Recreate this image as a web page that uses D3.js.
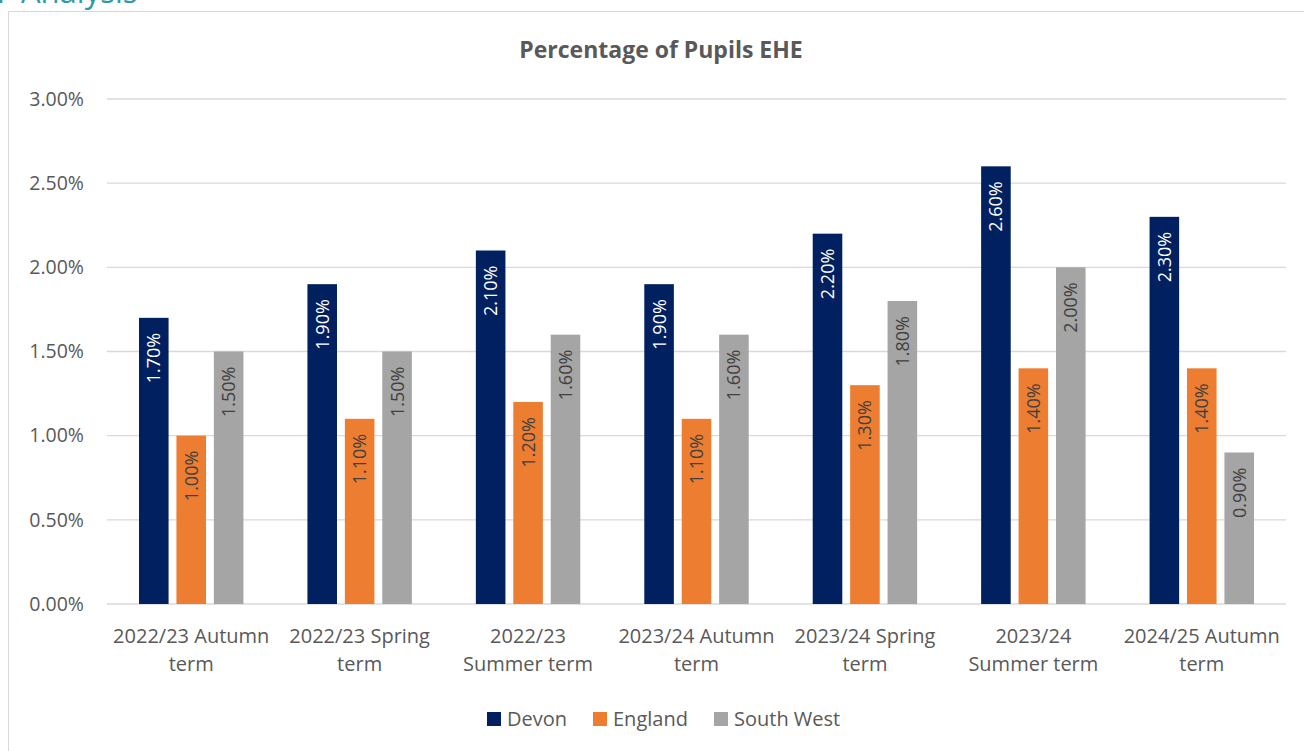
<!DOCTYPE html>
<html>
<head>
<meta charset="utf-8">
<script src="https://cdn.jsdelivr.net/npm/d3@7"></script>
<style>
  body { margin: 0; background: #fff; }
  svg { display: block; font-family: "Open Sans", sans-serif; }
</style>
</head>
<body>
<svg id="chart" width="1304" height="751"></svg>
<script>
// data
const categories = [
    ["2022/23 Autumn", "term"],
    ["2022/23 Spring", "term"],
    ["2022/23", "Summer term"],
    ["2023/24 Autumn", "term"],
    ["2023/24 Spring", "term"],
    ["2023/24", "Summer term"],
    ["2024/25 Autumn", "term"]
];
const seriesNames = ["Devon", "England", "South West"];
const devon = [1.7, 1.9, 2.1, 1.9, 2.2, 2.6, 2.3];
const england = [1.0, 1.1, 1.2, 1.1, 1.3, 1.4, 1.4];
const southWest = [1.5, 1.5, 1.6, 1.6, 1.8, 2.0, 0.9];
const yTicks = [0, 0.5, 1.0, 1.5, 2.0, 2.5, 3.0];

const colors = ["#002060", "#ed7d31", "#a5a5a5"];
const labelColors = ["#ffffff", "#404040", "#404040"];

const svg = d3.select("#chart");
const margin = {top: 99, right: 18, bottom: 147, left: 107};
const width = 1304 - margin.left - margin.right;
const height = 751 - margin.top - margin.bottom;

// the page heading is cut off at the top of the crop
svg.append("text")
    .attr("x", -3).attr("y", 3)
    .attr("font-size", 31)
    .attr("fill", "#2e9aa6")
    .text("l");
svg.append("text")
    .attr("x", 21).attr("y", 3)
    .attr("font-size", 31)
    .attr("fill", "#2e9aa6")
    .text("Analysis");

svg.append("rect")
    .attr("x", 8.5).attr("y", 11.5)
    .attr("width", 1310).attr("height", 760)
    .attr("fill", "#fff")
    .attr("stroke", "#d9d9d9");

svg.append("text")
    .attr("x", 661).attr("y", 58)
    .attr("text-anchor", "middle")
    .attr("font-size", 23)
    .attr("font-weight", "bold")
    .attr("fill", "#595959")
    .text("Percentage of Pupils EHE");

const g = svg.append("g").attr("transform", `translate(${margin.left},${margin.top})`);

const x0 = d3.scaleBand()
    .domain(d3.range(categories.length))
    .range([0, width])
    .paddingInner(0.38)
    .paddingOuter(0.19);

const x1 = d3.scaleBand()
    .domain(d3.range(seriesNames.length))
    .range([0, x0.bandwidth()])
    .paddingInner(0.21);

const y = d3.scaleLinear().domain([0, 3]).range([height, 0]);

// gridlines
g.append("g")
    .selectAll("line")
    .data(yTicks)
    .join("line")
    .attr("x1", 0).attr("x2", width)
    .attr("y1", d => y(d)).attr("y2", d => y(d))
    .attr("stroke", "#d9d9d9")
    .attr("stroke-width", 1.3);

// y axis labels
const yAxis = g.append("g")
    .call(d3.axisLeft(y).tickValues(yTicks).tickFormat(d => d.toFixed(2) + "%").tickSize(0).tickPadding(23));
yAxis.select(".domain").remove();
yAxis.selectAll("text")
    .attr("font-family", "'Open Sans', sans-serif")
    .attr("font-size", 19.5)
    .attr("fill", "#595959");

const series = [devon, england, southWest];

const groups = g.selectAll(".cat")
    .data(categories)
    .join("g")
    .attr("class", "cat")
    .attr("transform", (d, i) => `translate(${x0(i)},0)`);

groups.each(function(cat, ci) {
    const grp = d3.select(this);
    series.forEach((vals, si) => {
        const v = vals[ci];
        const bx = x1(si);
        grp.append("rect")
            .attr("x", bx)
            .attr("y", y(v))
            .attr("width", x1.bandwidth())
            .attr("height", height - y(v))
            .attr("fill", colors[si]);
        // value label, rotated, inside the top of the bar
        const cx = bx + x1.bandwidth() / 2;
        const ty = y(v) + 15;
        grp.append("text")
            .attr("transform", `translate(${cx},${ty}) rotate(-90)`)
            .attr("text-anchor", "end")
            .attr("dy", "0.36em")
            .attr("font-size", 18)
            .attr("fill", labelColors[si])
            .text(v.toFixed(2) + "%");
    });
});

// category labels
const xLabels = g.append("g")
    .selectAll("text")
    .data(categories)
    .join("text")
    .attr("x", (d, i) => x0(i) + x0.bandwidth() / 2)
    .attr("y", height + 39)
    .attr("text-anchor", "middle")
    .attr("font-size", 20)
    .attr("fill", "#595959");
xLabels.selectAll("tspan")
    .data(d => d)
    .join("tspan")
    .attr("x", function() { return d3.select(this.parentNode).attr("x"); })
    .attr("dy", (d, i) => i === 0 ? 0 : 28)
    .text(d => d);

// legend
const legendX = [487, 593, 714];
const legend = svg.append("g").selectAll("g")
    .data(seriesNames)
    .join("g")
    .attr("transform", (d, i) => `translate(${legendX[i]},712)`);
legend.append("rect")
    .attr("width", 14).attr("height", 14)
    .attr("fill", (d, i) => colors[i]);
legend.append("text")
    .attr("x", 20).attr("y", 7)
    .attr("dy", "0.36em")
    .attr("font-size", 20)
    .attr("fill", "#595959")
    .text(d => d);
</script>
</body>
</html>
